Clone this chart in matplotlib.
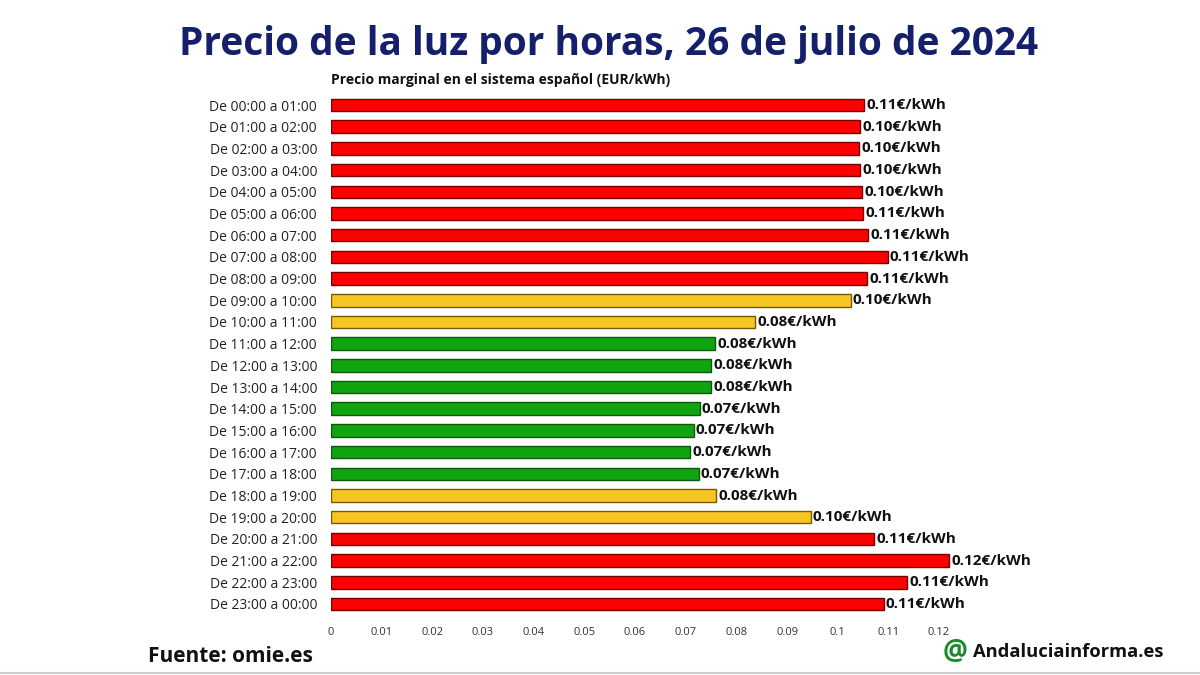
import matplotlib
matplotlib.use("Agg")
import matplotlib.pyplot as plt

hours = [f"De {h:02d}:00 a {(h+1)%24:02d}:00" for h in range(24)]
prices = [0.1052, 0.1044, 0.1042, 0.1044, 0.1048, 0.1050, 0.1060, 0.1099,
          0.1058, 0.1026, 0.0837, 0.0758, 0.0750, 0.0750, 0.0728, 0.0716,
          0.0709, 0.0726, 0.0760, 0.0947, 0.1072, 0.1220, 0.1137, 0.1091]
labels = ["0.11", "0.10", "0.10", "0.10", "0.10", "0.11", "0.11", "0.11",
          "0.11", "0.10", "0.08", "0.08", "0.08", "0.08", "0.07", "0.07",
          "0.07", "0.07", "0.08", "0.10", "0.11", "0.12", "0.11", "0.11"]
levels = ["r"] * 9 + ["y", "y"] + ["g"] * 7 + ["y", "y"] + ["r"] * 4
xticks = [0, 0.01, 0.02, 0.03, 0.04, 0.05, 0.06, 0.07, 0.08, 0.09, 0.1, 0.11, 0.12]
xticklabels = ["0", "0.01", "0.02", "0.03", "0.04", "0.05", "0.06", "0.07",
               "0.08", "0.09", "0.1", "0.11", "0.12"]

fill = {"r": "#ff0000", "y": "#f8c623", "g": "#10a510"}
edge = {"r": "#7a0000", "y": "#7a5a00", "g": "#0a5a0a"}

plt.rcParams['font.family'] = ['Open Sans', 'DejaVu Sans']

fig = plt.figure(figsize=(12, 6.75), dpi=100)
ax = fig.add_axes([331/1200, 1-617/675, (0.125*5067)/1200, (617-92)/675])

ypos = list(range(24))
ax.barh(ypos, prices, height=0.58,
        color=[fill[l] for l in levels],
        edgecolor=[edge[l] for l in levels], linewidth=1.0)
for y, p, lab in zip(ypos, prices, labels):
    ax.text(p + 0.0004, y, f"{lab}€/kWh", va="center", ha="left",
            fontsize=11, fontweight="bold", color="#111111")

ax.set_ylim(23.6, -0.6)
ax.set_xlim(0, 0.125)
ax.set_yticks(ypos)
ax.set_yticklabels(hours, fontsize=10, color="#222222")
ax.set_xticks(xticks)
ax.set_xticklabels(xticklabels, fontsize=8, color="#333333")
ax.tick_params(axis="both", length=0)
ax.tick_params(axis="y", pad=10)
ax.tick_params(axis="x", pad=7)
for s in ax.spines.values():
    s.set_visible(False)

fig.text(609/1200, 1-45/675, "Precio de la luz por horas, 26 de julio de 2024",
         ha="center", va="center", fontsize=28, fontweight="bold", color="#14206b")
fig.text(331/1200, 1-80/675, "Precio marginal en el sistema español (EUR/kWh)",
         ha="left", va="center", fontsize=10, fontweight="bold", color="#111111")
fig.text(148/1200, 1-657/675, "Fuente: omie.es", ha="left", va="center",
         fontsize=15, fontweight="bold", color="#111111")
fig.text(955/1200, 1-652/675, "@", ha="center", va="center",
         fontsize=20, fontweight="bold", color="#1a8a2a")
fig.text(973/1200, 1-652/675, "Andaluciainforma.es", ha="left", va="center",
         fontsize=13.2, fontweight="bold", color="#111111")
fig.add_artist(plt.Line2D([0, 1], [1-673/675, 1-673/675], color="#cccccc", lw=1.5))

fig.savefig("out.png", dpi=100, facecolor="white")
